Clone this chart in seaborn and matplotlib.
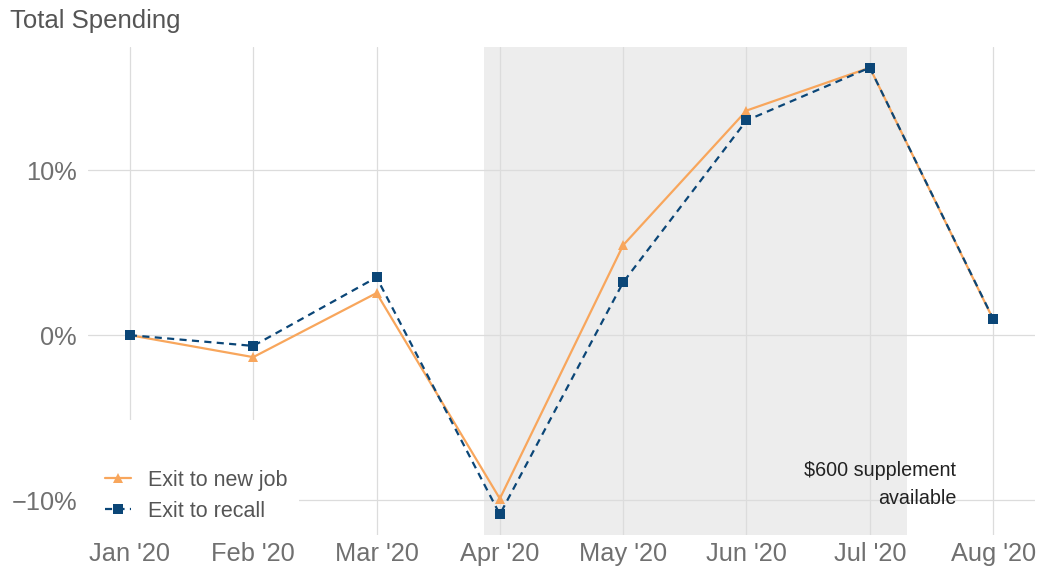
import matplotlib
matplotlib.use("Agg")
from matplotlib import pyplot as plt
from matplotlib.patches import Rectangle
import seaborn as sns
import pandas as pd

months = ["Jan '20", "Feb '20", "Mar '20", "Apr '20", "May '20", "Jun '20", "Jul '20", "Aug '20"]
new_job = [0.0, -1.33, 2.55, -9.9, 5.45, 13.6, 16.2, 0.97]
recall = [0.0, -0.65, 3.5, -10.85, 3.2, 13.0, 16.2, 1.0]
y_ticks = [-10, 0, 10]
y_labels = ["\u221210%", "0%", "10%"]

orange = "#F8A65C"
blue = "#0B4677"

df = pd.DataFrame({"x": range(len(months)), "new_job": new_job, "recall": recall})

sns.set_style("white")
plt.rcParams['font.family'] = ['Liberation Sans', 'DejaVu Sans']

fig = plt.figure(figsize=(10.42, 5.73), dpi=100)
ax = fig.add_axes([88/1042, 1 - 535/573, 947/1042, 488/573])

# shaded window where the supplement was paid
ax.axvspan(2.87, 6.3, color="#EDEDED", lw=0, zorder=0.3)

sns.lineplot(data=df, x="x", y="new_job", ax=ax, color=orange, lw=1.6,
             marker="^", markersize=7, markeredgewidth=0, label="Exit to new job", zorder=3)
sns.lineplot(data=df, x="x", y="recall", ax=ax, color=blue, lw=1.6,
             marker="s", markersize=6.5, markeredgewidth=0, label="Exit to recall", zorder=4)
ax.lines[1].set_dashes((3.2, 2.4))

ax.set_xlim(-0.34, 7.34)
ax.set_ylim(-12.1, 17.45)
ax.set_xticks(range(len(months)))
ax.set_xticklabels(months)
ax.set_yticks(y_ticks)
ax.set_yticklabels(y_labels)
ax.tick_params(axis="both", length=0, labelsize=18.3, labelcolor="#707070")
ax.tick_params(axis="x", pad=5)
ax.tick_params(axis="y", pad=8)
ax.set_xlabel("")
ax.set_ylabel("")
ax.grid(True, color="#DCDCDC", lw=0.9)
ax.set_axisbelow(True)
for s in ax.spines.values():
    s.set_visible(False)

# white box behind the legend hides the gridlines
ax.add_patch(Rectangle((0, 0), 0.223, 0.236, transform=ax.transAxes,
                       facecolor="white", edgecolor="none", zorder=0.6))
leg = ax.legend(loc="lower left", bbox_to_anchor=(0.0, -0.008), frameon=False,
                fontsize=15.5, handlelength=1.2, handletextpad=0.8, labelspacing=0.45,
                borderaxespad=0.4)
for t in leg.get_texts():
    t.set_color("#555555")

ax.text(6.7, -9.03, "\\$600 supplement\navailable", ha="right", va="center",
        multialignment="right", fontsize=14.2, color="#222222", linespacing=1.57)

fig.text(10/1042, 1 - 21/573, "Total Spending", fontsize=18.5, color="#555555",
         ha="left", va="center")

fig.savefig("out.png", dpi=100)
